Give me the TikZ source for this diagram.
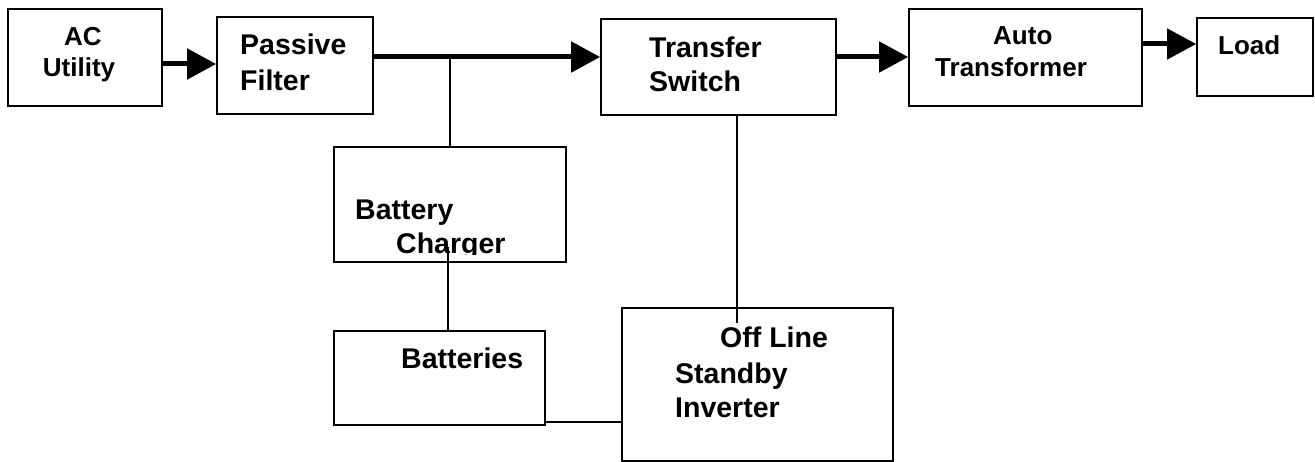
\documentclass[tikz,border=0pt]{standalone}
\usepackage{fontspec}
\setmainfont{Liberation Sans}
\usetikzlibrary{arrows.meta}
\begin{document}
\begin{tikzpicture}[x=1pt,y=-1pt,
  box/.style={draw=black,line width=1.7pt,rectangle,inner sep=0pt,fill=white},
  lbl/.style={inner sep=0pt,font=\fontsize{26}{30}\selectfont\bfseries},
  lblb/.style={inner sep=0pt,font=\fontsize{28.5}{33}\selectfont\bfseries},
  flow/.style={line width=5pt,-{Triangle[length=29pt,width=30pt]}},
  wire/.style={line width=1.6pt}]
\fill[white] (0,0) rectangle (1315,462);
\useasboundingbox (0,0) rectangle (1315,462);
% boxes
\node[box,minimum width=154pt,minimum height=97pt] (ac) at (85,57.5) {};
\node[box,minimum width=156pt,minimum height=97pt] (pf) at (295,65.5) {};
\node[box,minimum width=235pt,minimum height=96pt] (ts) at (718.5,67) {};
\node[box,minimum width=233pt,minimum height=97pt] (at) at (1025.5,57.5) {};
\node[box,minimum width=116pt,minimum height=78pt] (ld) at (1255,57) {};
\node[box,minimum width=232pt,minimum height=115pt] (bc) at (450,204.5) {};
\node[box,minimum width=211pt,minimum height=94pt] (bt) at (439.5,378) {};
\node[box,minimum width=271pt,minimum height=153pt] (inv) at (757.5,384.5) {};
% texts
\node[lbl,anchor=base] (acA) at (83,46) {AC};
\node[lbl,anchor=base] (acB) at (79,77) {Utility};
\node[lblb,anchor=base west] (pfA) at (240,55) {Passive};
\node[lblb,anchor=base west] (pfB) at (240,91) {Filter};
\node[lblb,anchor=base west] (tsA) at (649,58) {Transfer};
\node[lblb,anchor=base west] (tsB) at (649,92) {Switch};
\node[lbl,anchor=base west] (atA) at (993,45) {Auto};
\node[lbl,anchor=base west] (atB) at (935,77) {Transformer};
\node[lbl,anchor=base west] (ldA) at (1218,55) {Load};
\node[lblb,anchor=base west] (bcA) at (355,220) {Battery};
\begin{scope}
\clip (334,150) rectangle (566,255);
\node[lblb,anchor=base west] (bcB) at (396,254) {Charger};
\end{scope}
\node[lblb,anchor=base west] (btA) at (401,369) {Batteries};
\node[lblb,anchor=base west] (invA) at (720,348) {Off Line};
\node[lblb,anchor=base west] (invB) at (675,383) {Standby};
\node[lblb,anchor=base west] (invC) at (675,417) {Inverter};
% helper coordinates
\coordinate (y64) at (0,64);
\coordinate (y57) at (0,57);
\coordinate (y44) at (0,44);
\coordinate (y422) at (0,422);
\coordinate (j1) at (450,57);
\coordinate (c2) at (448,247);
\coordinate (c3) at (737,323);
% thick flow arrows
\draw[flow] (ac.east |- y64) -- (pf.west |- y64);
\draw[flow] (pf.east |- y57) -- (ts.west |- y57);
\draw[flow] (ts.east |- y57) -- (at.west |- y57);
\draw[flow] (at.east |- y44) -- (ld.west |- y44);
% thin connectors
\draw[wire] (j1) -- (j1 |- bc.north);
\draw[wire] (c2) -- (c2 |- bt.north);
\draw[wire] (c3 |- ts.south) -- (c3);
\draw[wire] (bt.east |- y422) -- (inv.west |- y422);
\end{tikzpicture}
\end{document}
